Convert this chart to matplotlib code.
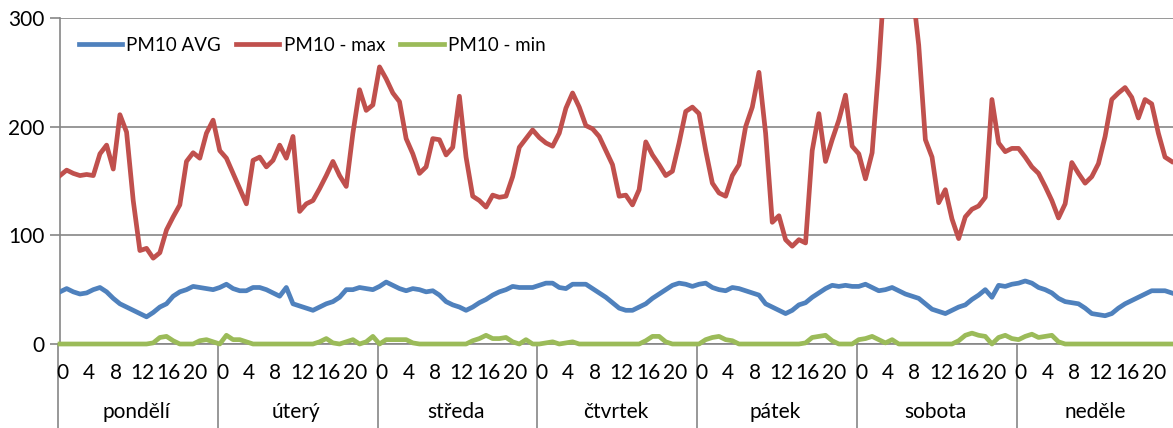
import matplotlib
matplotlib.use("Agg")
import matplotlib.pyplot as plt
import numpy as np

plt.rcParams['font.family'] = ['Lato', 'DejaVu Sans']

# dny v tydnu a popisky hodin
dny = ["pondělí", "úterý", "středa", "čtvrtek", "pátek", "sobota", "neděle"]
hodiny_popisky = ["0", "4", "8", "12", "16", "20"]

# PM10 prumer (24 hodnot na den)
pm10_avg = [
    48, 51, 48, 46, 47, 50, 52, 48, 42, 37, 34, 31, 28, 25, 29, 34, 37, 44, 48, 50, 53, 52, 51, 50,
    52, 55, 51, 49, 49, 52, 52, 50, 47, 44, 52, 37, 35, 33, 31, 34, 37, 39, 43, 50, 50, 52, 51, 50,
    53, 57, 54, 51, 49, 51, 50, 48, 49, 45, 39, 36, 34, 31, 34, 38, 41, 45, 48, 50, 53, 52, 52, 52,
    54, 56, 56, 52, 51, 55, 55, 55, 51, 47, 43, 38, 33, 31, 31, 34, 37, 42, 46, 50, 54, 56, 55, 53,
    55, 56, 52, 50, 49, 52, 51, 49, 47, 45, 37, 34, 31, 28, 31, 36, 38, 43, 47, 51, 54, 53, 54, 53,
    53, 55, 52, 49, 50, 52, 49, 46, 44, 42, 37, 32, 30, 28, 31, 34, 36, 41, 45, 50, 43, 54, 53, 55,
    56, 58, 56, 52, 50, 47, 42, 39, 38, 37, 33, 28, 27, 26, 28, 33, 37, 40, 43, 46, 49, 49, 49, 47,
]

# PM10 maximum
pm10_max = [
    155, 160, 157, 155, 156, 155, 175, 183, 161, 211, 195, 132, 86, 88, 79, 84, 105, 117, 128, 168, 176, 171, 194, 206,
    178, 171, 157, 143, 129, 169, 172, 163, 169, 183, 171, 191, 122, 129, 132, 143, 155, 168, 155, 145, 194, 234, 215, 220,
    255, 244, 231, 223, 189, 175, 157, 163, 189, 188, 174, 181, 228, 172, 136, 132, 126, 137, 135, 136, 154, 181, 189, 197,
    190, 185, 182, 194, 217, 231, 218, 201, 198, 191, 178, 165, 136, 137, 128, 142, 186, 174, 165, 155, 159, 185, 214, 218,
    212, 178, 148, 139, 136, 155, 165, 200, 218, 250, 194, 112, 118, 96, 90, 96, 93, 178, 212, 168, 188, 206, 229, 182,
    175, 152, 176, 255, 350, 390, 400, 370, 330, 275, 188, 172, 130, 142, 115, 97, 117, 124, 127, 135, 225, 185, 177, 180,
    180, 172, 163, 157, 145, 132, 116, 129, 167, 157, 148, 154, 166, 191, 225, 231, 236, 227, 208, 225, 221, 194, 172, 168,
]

# PM10 minimum
pm10_min = [
    0, 0, 0, 0, 0, 0, 0, 0, 0, 0, 0, 0, 0, 0, 1, 6, 7, 3, 0, 0, 0, 3, 4, 2,
    0, 8, 4, 4, 2, 0, 0, 0, 0, 0, 0, 0, 0, 0, 0, 2, 5, 1, 0, 2, 4, 0, 2, 7,
    0, 4, 4, 4, 4, 1, 0, 0, 0, 0, 0, 0, 0, 0, 3, 5, 8, 5, 5, 6, 2, 0, 4, 0,
    0, 1, 2, 0, 1, 2, 0, 0, 0, 0, 0, 0, 0, 0, 0, 0, 3, 7, 7, 2, 0, 0, 0, 0,
    0, 4, 6, 7, 4, 3, 0, 0, 0, 0, 0, 0, 0, 0, 0, 0, 1, 6, 7, 8, 3, 0, 0, 0,
    4, 5, 7, 4, 1, 4, 0, 0, 0, 0, 0, 0, 0, 0, 0, 3, 8, 10, 8, 7, 0, 6, 8, 5,
    4, 7, 9, 6, 7, 8, 2, 0, 0, 0, 0, 0, 0, 0, 0, 0, 0, 0, 0, 0, 0, 0, 0, 0,
]

x = np.arange(len(pm10_avg))
seda = "#868686"

fig = plt.figure(figsize=(11.73, 4.28), dpi=100)
ax = fig.add_axes([60 / 1173, 1 - 344 / 428, 1113 / 1173, 326 / 428])

ax.plot(x, pm10_avg, color="#4F81BD", lw=3.4, solid_joinstyle="round", label="PM10 AVG", zorder=3)
ax.plot(x, pm10_max, color="#C0504D", lw=3.4, solid_joinstyle="round", label="PM10 - max", zorder=3)
ax.plot(x, pm10_min, color="#9BBB59", lw=3.4, solid_joinstyle="round", label="PM10 - min",
        zorder=3, clip_on=False)

ax.set_xlim(0, 167.2)
ax.set_ylim(0, 300)
ax.set_yticks([0, 100, 200, 300])
ax.yaxis.grid(True, color=seda, lw=1.2)
ax.set_axisbelow(True)
ax.tick_params(axis="y", length=7, width=1.2, color=seda, labelsize=15, pad=4)
for s in ["top", "right"]:
    ax.spines[s].set_visible(False)
ax.spines["left"].set_color(seda)
ax.spines["bottom"].set_color(seda)
ax.spines["left"].set_linewidth(1.2)
ax.spines["bottom"].set_linewidth(1.2)

# dvouurovnova osa x
ax.set_xticks([])
trans = ax.get_xaxis_transform()
for i, den in enumerate(dny):
    start = i * 24
    ax.plot([start - 0.3, start - 0.3], [0, -0.26], transform=trans, color=seda, lw=1.2, clip_on=False)
    for j, lab in enumerate(hodiny_popisky):
        ax.text(start + j * 4 + 0.35, -0.09, lab, transform=trans, ha="center", va="center", fontsize=15)
    ax.text(start + 11.5, -0.208, den, transform=trans, ha="center", va="center", fontsize=15)

ax.legend(loc="upper left", bbox_to_anchor=(0.01, 0.965), ncol=3, frameon=False, fontsize=13.5,
          handlelength=2.3, handletextpad=0.25, columnspacing=0.8, borderaxespad=0)

fig.savefig("out.png", dpi=100)
